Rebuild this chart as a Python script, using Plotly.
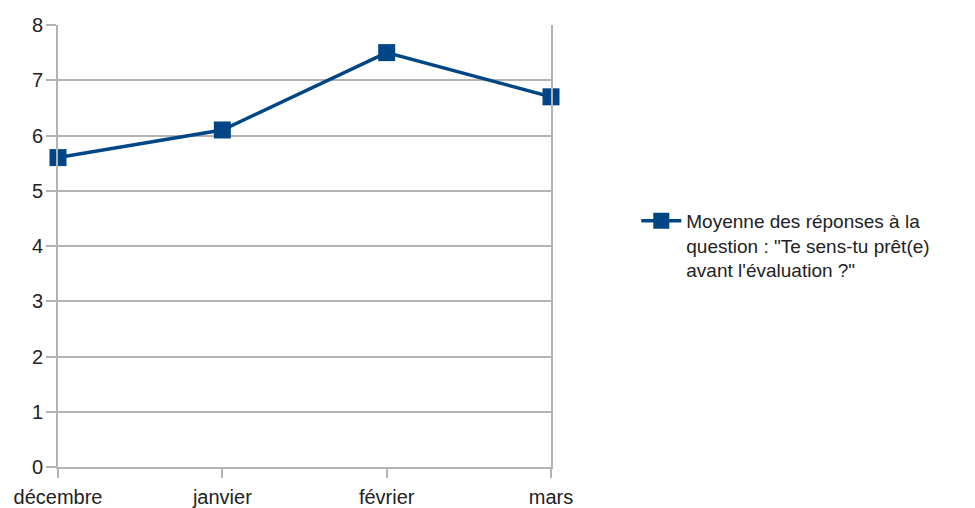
import plotly.graph_objects as go

months = ["décembre", "janvier", "février", "mars"]
values = [5.6, 6.1, 7.5, 6.7]
series_name = 'Moyenne des réponses à la<br>question : "Te sens-tu prêt(e)<br>avant l\'évaluation ?"'
y_ticks = [0, 1, 2, 3, 4, 5, 6, 7, 8]

blue = "#004586"
grid = "#b3b3b3"

fig = go.Figure()
fig.add_trace(go.Scatter(
    x=list(range(len(months))), y=values, mode="lines+markers", name=series_name,
    line=dict(color=blue, width=3.5),
    marker=dict(symbol="square", size=17, color=blue),
    cliponaxis=False,
))

fig.update_layout(
    width=967, height=500,
    margin=dict(l=50, r=424, t=17, b=41),
    paper_bgcolor="white", plot_bgcolor="white",
    font=dict(family="Liberation Sans, Arial, sans-serif", size=20, color="#222222"),
    showlegend=True,
    legend=dict(x=1.173, y=0.600, xanchor="left", yanchor="top", valign="top",
                font=dict(size=19, color="#222222"), itemwidth=40,
                bgcolor="rgba(0,0,0,0)"),
    xaxis=dict(
        range=[0, 3], tickvals=list(range(len(months))), ticktext=months,
        showgrid=False, zeroline=False, showline=True, linecolor=grid, linewidth=2,
        ticks="outside", ticklen=9, tickwidth=2, tickcolor=grid, ticklabelstandoff=2,
        automargin=False, fixedrange=True,
    ),
    yaxis=dict(
        range=[0, 8], tickvals=y_ticks, showgrid=True, gridcolor=grid, gridwidth=2,
        zeroline=False, showline=True, linecolor=grid, linewidth=2, mirror=True,
        ticks="outside", ticklen=10, tickwidth=2, tickcolor=grid, ticklabelstandoff=-1,
        automargin=False, fixedrange=True,
    ),
)

fig.write_html("out.html")
